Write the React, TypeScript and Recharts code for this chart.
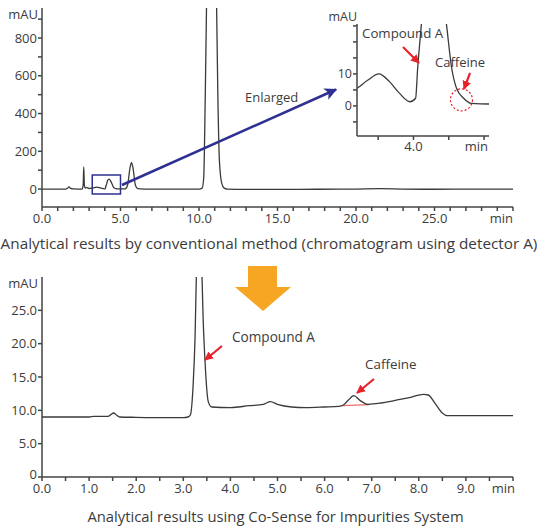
import {
  LineChart,
  Line,
  XAxis,
  YAxis,
  ReferenceArea,
  ReferenceLine,
  ReferenceDot,
} from "recharts";

// Detector A (conventional method), minutes / mAU
const timeA = [
  0, 1.5, 1.62, 1.72, 1.82, 2.0, 2.55, 2.62, 2.66, 2.7, 2.76, 2.85, 2.92, 3.0,
  3.2, 3.35, 3.51, 3.66, 3.8, 3.95, 4.03, 4.06, 4.11, 4.18, 4.27, 4.36, 4.47,
  4.54, 4.61, 4.71, 4.82, 5.07, 5.3, 5.45, 5.6, 5.7, 5.8, 5.95, 6.1, 6.5, 10.0,
  10.2, 10.3, 10.4, 10.5, 10.65, 10.8, 10.95, 11.1, 11.2, 11.3, 11.45, 11.6,
  11.8, 13, 15, 17.5, 20, 21.5, 23, 25, 27.5, 30,
];
const signalA = [
  0, 0, 4, 12, 4, 1, 0, 20, 117, 20, 5, 9, 6, 3,
  5.5, 8, 10, 7.6, 4, 1.3, 2.4, 12, 25, 45, 53, 45, 25,
  12, 5.5, 2.4, 0.8, 0.6, 1, 20, 110, 140, 110, 20, 2, 0, 0,
  5, 60, 500, 1100, 2000, 2400, 2000, 1100, 500, 150, 30, 5,
  0, -2, -2, -1, 0, 2, 0, -1, 0, 0,
];

// Co-Sense for Impurities
const timeB = [
  0, 1.0, 1.1, 1.4, 1.47, 1.52, 1.58, 1.65, 2.0, 2.7, 3.0, 3.1, 3.15, 3.21,
  3.25, 3.3, 3.34, 3.38, 3.42, 3.46, 3.53, 3.6, 4.0, 4.4, 4.7, 4.85, 5.0, 5.3,
  5.6, 6.0, 6.3, 6.4, 6.5, 6.62, 6.75, 6.92, 7.2, 7.5, 7.8, 8.1, 8.2, 8.35,
  8.5, 8.6, 9.0, 10,
];
const signalB = [
  9.0, 9.0, 9.1, 9.1, 9.4, 9.6, 9.3, 9.0, 8.95, 8.9, 8.9, 9.0, 9.3, 14,
  21, 38, 45, 35, 24, 17.5, 11.3, 10.5, 10.4, 10.7, 10.9, 11.3, 10.9, 10.5,
  10.4, 10.5, 10.6, 10.8, 11.5, 12.2, 11.5, 10.9, 11.1, 11.5, 11.9, 12.4, 12.3, 11.0,
  9.6, 9.2, 9.2, 9.2,
];

const ticksTopX = [
  0, 1, 2, 3, 4, 5, 6, 7, 8, 9, 10, 11, 12, 13, 14, 15, 16, 17, 18, 19, 20,
  21, 22, 23, 24, 25, 26, 27, 28, 29, 30,
];
const ticksTopY = [0, 100, 200, 300, 400, 500, 600, 700, 800, 900];
const ticksInsetX = [3.5, 4.0, 4.5, 5.0];
const ticksInsetY = [-5, 0, 5, 10, 15, 20, 25];
const ticksBottomX = [
  0, 0.5, 1, 1.5, 2, 2.5, 3, 3.5, 4, 4.5, 5, 5.5, 6, 6.5, 7, 7.5, 8, 8.5, 9,
  9.5, 10,
];
const ticksBottomY = [0, 5, 10, 15, 20, 25];

const dataA = timeA.map((t, i) => ({ t, v: signalA[i] }));
const dataB = timeB.map((t, i) => ({ t, v: signalB[i] }));

const AXIS = "#444";
const LINE = "#3a3a3a";
const TEXT = "#3c3c3c";
const RED = "#e8212b";
const FONT = "'Open Sans', sans-serif";

const makeTick =
  (fmt: (v: number) => string, minDx: number, size: number) => (props: any) => {
    const { x, y, payload } = props;
    const label = fmt(payload.value);
    if (!label) return <g />;
    const isMin = label === "min";
    return (
      <text
        x={x + (isMin ? minDx : 0)}
        y={y}
        dy="0.75em"
        textAnchor={isMin ? "end" : "middle"}
        fill={TEXT}
        fontSize={size}
        fontFamily={FONT}
      >
        {label}
      </text>
    );
  };

const topXTick = makeTick(
  (v) => (v === 30 ? "min" : v % 5 === 0 ? v.toFixed(1) : ""),
  0,
  13
);
const insetXTick = makeTick(
  (v) => (v === 5 ? "min" : v === 4 ? "4.0" : ""),
  4,
  13
);
const bottomXTick = makeTick(
  (v) => (v === 10 ? "min" : Number.isInteger(v) ? v.toFixed(1) : ""),
  2,
  13
);

// bottom y labels: "0" sits a touch higher so it clears "0.0"
const bottomYTick = (props: any) => {
  const { x, y, payload } = props;
  const v = payload.value;
  return (
    <text
      x={x}
      y={v === 0 ? y - 3 : y}
      dy="0.355em"
      textAnchor="end"
      fill={TEXT}
      fontSize={13}
      fontFamily={FONT}
    >
      {v === 0 ? "0" : v.toFixed(1)}
    </text>
  );
};

const yTickStyle = { fill: TEXT, fontSize: 13, fontFamily: FONT };

export default function App() {
  return (
    <div
      style={{
        position: "absolute",
        left: 0,
        top: 0,
        width: 539,
        height: 526,
        background: "#fff",
        fontFamily: FONT,
      }}
    >
      {/* conventional method */}
      <div style={{ position: "absolute", left: 0, top: 0 }}>
        <LineChart
          width={539}
          height={230}
          data={dataA}
          margin={{ top: 8, right: 26, bottom: 0, left: 0 }}
        >
          <XAxis
            dataKey="t"
            type="number"
            domain={[0, 30]}
            ticks={ticksTopX}
            interval={0}
            allowDataOverflow
            height={23}
            tickSize={4}
            stroke={AXIS}
            strokeWidth={1.5}
            tick={topXTick}
          />
          <XAxis
            xAxisId="top"
            orientation="top"
            type="number"
            domain={[0, 30]}
            height={0}
            tick={false}
            tickLine={false}
            stroke={AXIS}
            strokeWidth={1.5}
          />
          <YAxis
            type="number"
            domain={[-95, 959]}
            ticks={ticksTopY}
            interval={0}
            allowDataOverflow
            width={42}
            tickSize={4}
            tickMargin={1}
            stroke={AXIS}
            strokeWidth={1.5}
            tick={yTickStyle}
            tickFormatter={(v: number) => (v % 200 === 0 ? String(v) : "")}
          />
          <YAxis
            yAxisId="right"
            orientation="right"
            width={0}
            tick={false}
            tickLine={false}
            stroke={AXIS}
            strokeWidth={1.5}
          />
          <ReferenceArea
            x1={3.2}
            x2={5.0}
            y1={-26}
            y2={74}
            fill="none"
            stroke="#2e3192"
            strokeWidth={1.5}
            fillOpacity={0}
          />
          <Line
            type="monotone"
            dataKey="v"
            stroke={LINE}
            strokeWidth={1.3}
            dot={false}
            isAnimationActive={false}
          />
        </LineChart>
      </div>

      {/* enlarged inset */}
      <div style={{ position: "absolute", left: 330, top: 16 }}>
        <LineChart
          width={165}
          height={150}
          data={dataA}
          margin={{ top: 8, right: 6, bottom: 0, left: 0 }}
        >
          <rect x={357 - 330} y={8} width={132} height={112} fill="#fff" />
          <XAxis
            dataKey="t"
            type="number"
            domain={[3.2, 5.07]}
            ticks={ticksInsetX}
            interval={0}
            allowDataOverflow
            height={30}
            tickSize={4}
            tickMargin={1}
            stroke={AXIS}
            strokeWidth={1.5}
            tick={insetXTick}
          />
          <XAxis
            xAxisId="top"
            orientation="top"
            type="number"
            domain={[3.2, 5.07]}
            height={0}
            tick={false}
            tickLine={false}
            stroke={AXIS}
            strokeWidth={1.5}
          />
          <YAxis
            type="number"
            domain={[-9.4, 25.6]}
            ticks={ticksInsetY}
            interval={0}
            allowDataOverflow
            width={27}
            tickSize={4}
            tickMargin={1}
            stroke={AXIS}
            strokeWidth={1.5}
            tick={{ ...yTickStyle, fontSize: 12.5 }}
            tickFormatter={(v: number) => (v === 0 || v === 10 ? String(v) : "")}
          />
          <YAxis
            yAxisId="right"
            orientation="right"
            width={0}
            tick={false}
            tickLine={false}
            stroke={AXIS}
            strokeWidth={1.5}
          />
          <ReferenceDot
            x={4.68}
            y={1.9}
            r={11}
            fill="none"
            stroke={RED}
            strokeWidth={1.2}
            strokeDasharray="2 2"
          />
          <Line
            type="monotone"
            dataKey="v"
            stroke={LINE}
            strokeWidth={1.3}
            dot={false}
            isAnimationActive={false}
          />
        </LineChart>
      </div>

      {/* Co-Sense */}
      <div style={{ position: "absolute", left: 0, top: 270 }}>
        <LineChart
          width={539}
          height={230}
          data={dataB}
          margin={{ top: 7, right: 26, bottom: 0, left: 0 }}
        >
          <XAxis
            dataKey="t"
            type="number"
            domain={[0, 10]}
            ticks={ticksBottomX}
            interval={0}
            allowDataOverflow
            height={23}
            tickSize={4}
            stroke={AXIS}
            strokeWidth={1.5}
            tick={bottomXTick}
          />
          <XAxis
            xAxisId="top"
            orientation="top"
            type="number"
            domain={[0, 10]}
            height={0}
            tick={false}
            tickLine={false}
            stroke={AXIS}
            strokeWidth={1.5}
          />
          <YAxis
            type="number"
            domain={[0, 30]}
            ticks={ticksBottomY}
            interval={0}
            allowDataOverflow
            width={42}
            tickSize={4}
            tickMargin={1}
            stroke={AXIS}
            strokeWidth={1.5}
            tick={bottomYTick}
          />
          <YAxis
            yAxisId="right"
            orientation="right"
            width={0}
            tick={false}
            tickLine={false}
            stroke={AXIS}
            strokeWidth={1.5}
          />
          <ReferenceLine
            segment={[
              { x: 6.38, y: 10.7 },
              { x: 6.95, y: 10.85 },
            ]}
            stroke="#ee6b6b"
            strokeWidth={1.2}
          />
          <Line
            type="monotone"
            dataKey="v"
            stroke={LINE}
            strokeWidth={1.3}
            dot={false}
            isAnimationActive={false}
          />
        </LineChart>
      </div>

      {/* labels and arrows */}
      <svg
        width={539}
        height={526}
        style={{ position: "absolute", left: 0, top: 0, pointerEvents: "none" }}
        fontFamily={FONT}
      >
        <defs>
          <marker
            id="blueHead"
            viewBox="0 0 10 10"
            refX="9"
            refY="5"
            markerWidth="5"
            markerHeight="5"
            markerUnits="strokeWidth"
            orient="auto"
          >
            <path d="M0,0 L10,5 L0,10 L2.5,5 z" fill="#2e3192" />
          </marker>
          <marker
            id="redHead"
            viewBox="0 0 10 10"
            refX="9"
            refY="5"
            markerWidth="4"
            markerHeight="4"
            markerUnits="strokeWidth"
            orient="auto"
          >
            <path d="M0,0 L10,5 L0,10 z" fill={RED} />
          </marker>
        </defs>

        <g fill={TEXT} fontSize={13}>
          <text x={38} y={18.5} textAnchor="end">mAU</text>
          <text x={357} y={21} textAnchor="end" fontSize={12.5}>mAU</text>
          <text x={38} y={287.5} textAnchor="end">mAU</text>
          <text x={245} y={101.5}>Enlarged</text>
          <text x={362} y={37.5} fontSize={13.3}>Compound A</text>
          <text x={435} y={66.5}>Caffeine</text>
          <text x={232} y={341.5} fontSize={13.6}>Compound A</text>
          <text x={365} y={368.5} fontSize={13.4}>Caffeine</text>
          <text x={269} y={248.5} textAnchor="middle" fontSize={15.3}>
            Analytical results by conventional method (chromatogram using detector A)
          </text>
          <text x={275.5} y={521.5} textAnchor="middle" fontSize={14.8}>
            Analytical results using Co-Sense for Impurities System
          </text>
        </g>

        <line
          x1={122}
          y1={185}
          x2={336}
          y2={89.5}
          stroke="#2e3192"
          strokeWidth={2.5}
          markerEnd="url(#blueHead)"
        />

        <g stroke={RED} strokeWidth={2.2} markerEnd="url(#redHead)">
          <line x1={403} y1={47} x2={419} y2={63} />
          <line x1={470} y1={73} x2={464} y2={89} />
          <line x1={222} y1={346} x2={205} y2={360} />
          <line x1={374} y1={379} x2={357} y2={393} />
        </g>

        <polygon
          points="248,266 277,266 277,287 291,287 263,311 235,287 248,287"
          fill="#f7a623"
        />
      </svg>
    </div>
  );
}
